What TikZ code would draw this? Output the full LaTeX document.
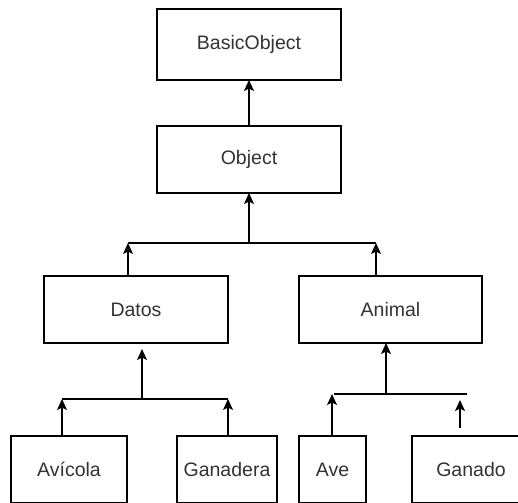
\documentclass[tikz,border=0pt]{standalone}
\usepackage{fontspec}
\setmainfont{Liberation Sans}
\usetikzlibrary{arrows.meta}
\definecolor{txt}{HTML}{333333}
\begin{document}
\begin{tikzpicture}[x=1pt,y=-1pt,
  box/.style={draw=black,line width=1.4pt,inner sep=0pt,outer sep=0pt,
    text=txt,font=\fontsize{19.5}{22}\selectfont},
  arr/.style={line width=1.4pt,-{Stealth[length=11pt,width=10pt,inset=2.5pt]}},
  bar/.style={line width=1.4pt}]
\useasboundingbox (0,0) rectangle (518,502);
\clip (0,0) rectangle (518,502);
\fill[white] (0,0) rectangle (518,502);
% boxes
\node[box,minimum width=184pt,minimum height=71pt] (basic) at (249,44.5) {BasicObject};
\node[box,minimum width=184pt,minimum height=67pt] (object) at (249,159.5) {Object};
\node[box,minimum width=184pt,minimum height=67pt] (datos) at (136,309.5) {Datos};
\node[box,minimum width=183pt,minimum height=67pt] (animal) at (390.5,309.5) {Animal};
\node[box,minimum width=116pt,minimum height=67pt] (avicola) at (69,469.5) {Avícola};
\node[box,minimum width=100pt,minimum height=67pt] (ganadera) at (227,469.5) {Ganadera};
\node[box,minimum width=67pt,minimum height=67pt] (ave) at (332.5,469.5) {Ave};
\node[box,minimum width=118pt,minimum height=67pt] (ganado) at (471,469.5) {Ganado};
% Object -> BasicObject
\draw[arr,line width=2pt] (object.north) -- (basic.south);
% level 2 junction
\coordinate (j1) at (249,243);
\coordinate (j1l) at (128,243);
\coordinate (j1r) at (376,243);
\draw[bar] (j1l) -- (j1r);
\draw[arr] (j1) -- (object.south);
\draw[arr] (j1l |- datos.north) -- (j1l);
\draw[arr] (j1r |- animal.north) -- (j1r);
% Datos subtree
\coordinate (j2) at (142,399);
\coordinate (j2t) at (142,349);
\coordinate (j2l) at (62,399);
\coordinate (j2r) at (228,399);
\draw[bar] (j2l) -- (j2r);
\draw[arr] (j2) -- (j2t);
\draw[arr] (j2l |- avicola.north) -- (j2l);
\draw[arr] (j2r |- ganadera.north) -- (j2r);
% Animal subtree
\coordinate (j3) at (386,394);
\coordinate (j3l) at (334,394);
\coordinate (j3r) at (467,394);
\coordinate (j3a) at (332,394);
\coordinate (g1) at (460,428);
\coordinate (g2) at (460,400);
\draw[bar] (j3l) -- (j3r);
\draw[arr] (j3) -- (j3 |- animal.south);
\draw[arr] (j3a |- ave.north) -- (j3a);
\draw[arr] (g1) -- (g2);
\end{tikzpicture}
\end{document}
